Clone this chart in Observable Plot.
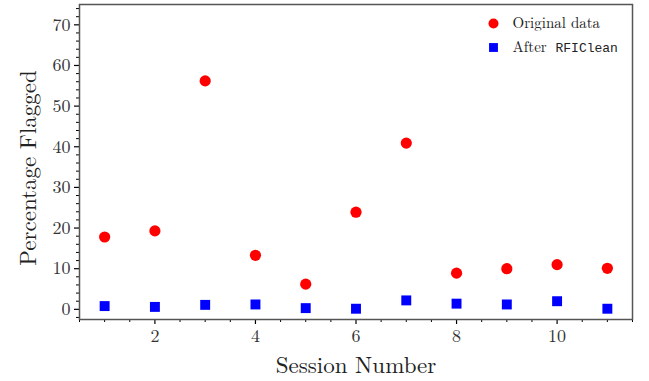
<!DOCTYPE html>
<html>
<head>
<meta charset="utf-8">
<script src="https://cdn.jsdelivr.net/npm/d3@7"></script>
<script src="https://cdn.jsdelivr.net/npm/@observablehq/plot@0.6"></script>
<style>
  html, body { margin: 0; padding: 0; background: #fff; }
  #chart { width: 649px; height: 381px; }
</style>
</head>
<body>
<div id="chart"></div>
<script>
const sessions = [1, 2, 3, 4, 5, 6, 7, 8, 9, 10, 11];
const originalData = [17.8, 19.3, 56.2, 13.3, 6.2, 23.9, 40.9, 8.9, 10.0, 11.0, 10.1];
const afterRFIClean = [0.8, 0.6, 1.1, 1.2, 0.3, 0.15, 2.2, 1.4, 1.2, 2.0, 0.15];
const xMajorTicks = [2, 4, 6, 8, 10];
const yMajorTicks = [0, 10, 20, 30, 40, 50, 60, 70];

const orig = sessions.map((s, i) => ({session: s, value: originalData[i]}));
const after = sessions.map((s, i) => ({session: s, value: afterRFIClean[i]}));
const xMinor = d3.range(0.5, 11.51, 0.5).filter(v => !xMajorTicks.includes(v));
const yMinor = d3.range(-2, 75, 2).filter(v => !yMajorTicks.includes(v));

const serif = "'Latin Modern Roman', 'Liberation Serif', 'DejaVu Serif', serif";
const mono = "'Liberation Mono', 'DejaVu Sans Mono', monospace";

const chart = Plot.plot({
  width: 649,
  height: 381,
  marginLeft: 79,
  marginRight: 17,
  marginTop: 4,
  marginBottom: 62,
  style: {fontFamily: serif, background: "#fff", color: "#222"},
  x: {domain: [0.5, 11.5]},
  y: {domain: [-2.5, 75]},
  marks: [
    Plot.axisY({ticks: yMajorTicks, tickSize: 5, tickPadding: 4, fontSize: 18, label: null, stroke: "#000", strokeWidth: 1.2, fill: "#333"}),
    Plot.axisY({ticks: yMinor, tickSize: 3, text: null, label: null, stroke: "#000", strokeWidth: 1}),
    Plot.axisX({ticks: xMajorTicks, tickSize: 5, tickPadding: 5, fontSize: 18, label: null, stroke: "#000", strokeWidth: 1.2, fill: "#333"}),
    Plot.axisX({ticks: xMinor, tickSize: 3, text: null, label: null, stroke: "#000", strokeWidth: 1}),
    Plot.frame({stroke: "#555", strokeWidth: 1.5}),
    Plot.dot(orig, {x: "session", y: "value", r: 5.6, fill: "#ff0000", stroke: "none"}),
    Plot.dot(after, {x: "session", y: "value", symbol: "square", r: 5.6, fill: "#0000ff", stroke: "none"}),
    // axis titles
    Plot.text(["Percentage Flagged"], {text: d => d, frameAnchor: "left", textAnchor: "middle", lineAnchor: "middle", dx: -51, dy: 6, rotate: -90, fontSize: 23, fill: "#222"}),
    Plot.text(["Session Number"], {text: d => d, frameAnchor: "bottom", textAnchor: "middle", lineAnchor: "middle", dy: 46, fontSize: 23, fill: "#222"}),
    // legend
    Plot.dot(["Original data"], {frameAnchor: "top-right", dx: -139, dy: 19, r: 5, fill: "#ff0000"}),
    Plot.text(["Original data"], {text: d => d, frameAnchor: "top-right", dx: -120, dy: 19, textAnchor: "start", lineAnchor: "middle", fontSize: 15, fill: "#222"}),
    Plot.dot(["After RFIClean"], {frameAnchor: "top-right", dx: -139, dy: 43, r: 5, symbol: "square", fill: "#0000ff"}),
    Plot.text(["After"], {text: d => d, frameAnchor: "top-right", dx: -120, dy: 43, textAnchor: "start", lineAnchor: "middle", fontSize: 15, fill: "#222"}),
    Plot.text(["RFIClean"], {text: d => d, frameAnchor: "top-right", dx: -77, dy: 43, textAnchor: "start", lineAnchor: "middle", fontSize: 13, fontFamily: mono, fill: "#222"})
  ]
});
document.getElementById("chart").appendChild(chart);
</script>
</body>
</html>
